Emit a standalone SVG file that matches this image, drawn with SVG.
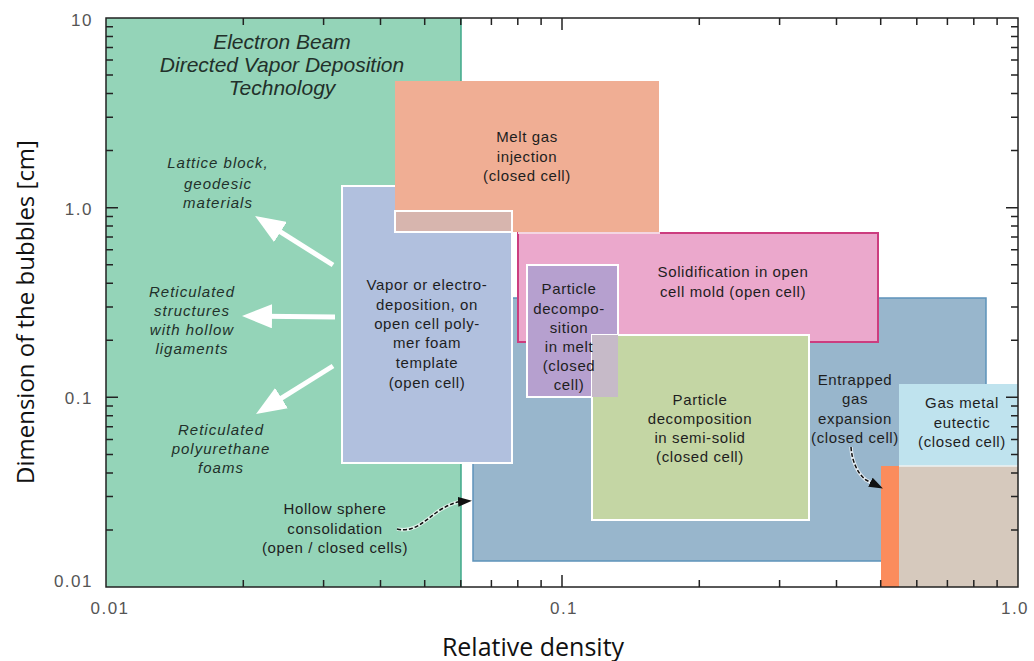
<svg xmlns="http://www.w3.org/2000/svg" width="1034" height="661" viewBox="0 0 1034 661">
<style>
.lbl{font-family:"Liberation Sans",Arial,sans-serif;font-size:15px;letter-spacing:0.6px;fill:#1e1e1e;text-anchor:middle}
.it{font-family:"Liberation Sans",Arial,sans-serif;font-size:15px;letter-spacing:1px;font-style:italic;fill:#22302a;text-anchor:middle}
.ttl{font-family:"Liberation Sans",Arial,sans-serif;font-size:21px;font-style:italic;fill:#22302a;text-anchor:middle}
.tick{font-family:"Liberation Sans",Arial,sans-serif;font-size:17px;letter-spacing:1.5px;fill:#555}
.axt{font-family:"Open Sans","Liberation Sans",sans-serif;fill:#111;text-anchor:middle}
.wb{stroke:#ffffff;stroke-width:2}
.warrow{stroke:#ffffff;stroke-width:5;fill:none;marker-end:url(#wh)}
.darrow{stroke:#111;stroke-width:1.5;fill:none;stroke-dasharray:4 2;marker-end:url(#bk)}
.halo{stroke:#ffffff;stroke-width:3.5;fill:none;opacity:0.7}
.tk{stroke:#222;stroke-width:1.5}
</style>
<defs>
<marker id="wh" viewBox="0 0 30 24" refX="8" refY="12" markerWidth="30" markerHeight="24" markerUnits="userSpaceOnUse" orient="auto">
<path d="M0,0 L30,12 L0,24 Z" fill="#ffffff"/>
</marker>
<marker id="bk" viewBox="0 0 14 10" refX="4" refY="5" markerWidth="14" markerHeight="10" markerUnits="userSpaceOnUse" orient="auto">
<path d="M0,0 L14,5 L0,10 Z" fill="#111"/>
</marker>
</defs>
<rect x="0" y="0" width="1034" height="661" fill="#ffffff"/>

<g id="ebdvd">
<rect x="106" y="18" width="355" height="569" fill="#94d4b8"/>
<line x1="461" y1="18" x2="461" y2="587" stroke="#3fa88a" stroke-width="1.5"/>
<text class="ttl" x="282" y="49">Electron Beam</text>
<text class="ttl" x="282" y="72">Directed Vapor Deposition</text>
<text class="ttl" x="282" y="95">Technology</text>
</g>

<g id="lattice">
<text class="it" x="218" y="168">Lattice block,</text>
<text class="it" x="218" y="189">geodesic</text>
<text class="it" x="218" y="208">materials</text>
</g>
<g id="reticulated-hollow">
<text class="it" x="192" y="297">Reticulated</text>
<text class="it" x="192" y="316">structures</text>
<text class="it" x="192" y="335">with hollow</text>
<text class="it" x="192" y="354">ligaments</text>
</g>
<g id="reticulated-pu">
<text class="it" x="221" y="435">Reticulated</text>
<text class="it" x="221" y="454">polyurethane</text>
<text class="it" x="221" y="473">foams</text>
</g>

<g id="hollow-sphere">
<rect x="473" y="298" width="513" height="263" fill="#98b6cc" stroke="#5d93ba" stroke-width="1.5"/>
<text class="lbl" x="335" y="514">Hollow sphere</text>
<text class="lbl" x="335" y="534">consolidation</text>
<text class="lbl" x="335" y="553">(open / closed cells)</text>
</g>

<g id="vapor-deposition">
<rect x="342" y="186" width="170" height="277" fill="#b1c0de" class="wb"/>
<text class="lbl" x="427" y="290">Vapor or electro-</text>
<text class="lbl" x="427" y="310">deposition, on</text>
<text class="lbl" x="427" y="329">open cell poly-</text>
<text class="lbl" x="427" y="348">mer foam</text>
<text class="lbl" x="427" y="368">template</text>
<text class="lbl" x="427" y="388">(open cell)</text>
</g>

<g id="melt-gas">
<rect x="395" y="81" width="264" height="151" fill="#f0ae94"/>
<rect x="395" y="211" width="117" height="21" fill="#d7b5ae" class="wb"/>
<text class="lbl" x="527" y="142">Melt gas</text>
<text class="lbl" x="527" y="162">injection</text>
<text class="lbl" x="527" y="181">(closed cell)</text>
</g>

<g id="solidification">
<rect x="518" y="233" width="360" height="109" fill="#eba8cc" stroke="#cc3d7f" stroke-width="2"/>
<line x1="518" y1="233" x2="660" y2="233" stroke="#f4d6e2" stroke-width="2"/>
<text class="lbl" x="733" y="277">Solidification in open</text>
<text class="lbl" x="733" y="297">cell mold (open cell)</text>
</g>

<g id="particle-melt">
<rect x="527" y="265" width="91" height="132" fill="#b6a0cf" class="wb"/>
</g>

<g id="particle-semisolid">
<rect x="592" y="335" width="217" height="185" fill="#c4d6a4" class="wb"/>
<rect x="592" y="335" width="26" height="62" fill="#c6bac8"/>
<text class="lbl" x="700" y="405">Particle</text>
<text class="lbl" x="700" y="424">decomposition</text>
<text class="lbl" x="700" y="443">in semi-solid</text>
<text class="lbl" x="700" y="462">(closed cell)</text>
</g>

<g id="particle-melt-text">
<text class="lbl" x="569" y="294">Particle</text>
<text class="lbl" x="569" y="314">decompo-</text>
<text class="lbl" x="569" y="333">sition</text>
<text class="lbl" x="569" y="352">in melt</text>
<text class="lbl" x="569" y="371">(closed</text>
<text class="lbl" x="569" y="390">cell)</text>
</g>

<g id="entrapped-gas">
<rect x="881" y="466" width="18" height="121" fill="#fb8c5c"/>
<text class="lbl" x="855" y="385">Entrapped</text>
<text class="lbl" x="855" y="404">gas</text>
<text class="lbl" x="855" y="424">expansion</text>
<text class="lbl" x="855" y="443">(closed cell)</text>
</g>

<g id="gas-metal-eutectic">
<rect x="899" y="384" width="119" height="82" fill="#bfe3ee"/>
<rect x="899" y="466" width="119" height="121" fill="#d6c9bd"/>
<line x1="899" y1="466" x2="1018" y2="466" stroke="#eef2f2" stroke-width="1.5"/>
<text class="lbl" x="962" y="408">Gas metal</text>
<text class="lbl" x="962" y="428">eutectic</text>
<text class="lbl" x="962" y="447">(closed cell)</text>
</g>

<g id="connectors">
<line class="warrow" x1="333" y1="265" x2="273.7" y2="227.7"/>
<line class="warrow" x1="335" y1="317" x2="264" y2="316.2"/>
<line class="warrow" x1="333" y1="366" x2="274.7" y2="402.4"/>
<path class="halo" d="M397,529 C415,533 425,520 440,510 C450,504 456,502 462,501.5"/>
<path class="darrow" d="M397,529 C415,533 425,520 440,510 C450,504 456,502 462,501.5"/>
<path class="halo" d="M851,447 C852,462 858,474 866,480 L874,484"/>
<path class="darrow" d="M851,447 C852,462 858,474 866,480 L874,484"/>
</g>

<g id="axes">
<rect x="106" y="18" width="912" height="569" fill="none" stroke="#222" stroke-width="1.5"/>
<path class="tk" d="M106,207.7h12M106,397.3h12M1018,207.7h-12M1018,397.3h-12
M106,150.6h7M106,117.2h7M106,93.5h7M106,75.1h7M106,60.1h7M106,47.4h7M106,36.4h7M106,26.7h7
M106,340.3h7M106,306.9h7M106,283.2h7M106,264.8h7M106,249.8h7M106,237.1h7M106,226.1h7M106,216.4h7
M106,530h7M106,496.6h7M106,472.9h7M106,454.5h7M106,439.5h7M106,426.8h7M106,415.8h7M106,406.1h7
M1018,150.6h-7M1018,117.2h-7M1018,93.5h-7M1018,75.1h-7M1018,60.1h-7M1018,47.4h-7M1018,36.4h-7M1018,26.7h-7
M1018,340.3h-7M1018,306.9h-7M1018,283.2h-7M1018,264.8h-7M1018,249.8h-7M1018,237.1h-7M1018,226.1h-7M1018,216.4h-7
M1018,530h-7M1018,496.6h-7M1018,472.9h-7M1018,454.5h-7M1018,439.5h-7M1018,426.8h-7M1018,415.8h-7M1018,406.1h-7
M562,587v-12M562,18v12
M243.3,587v-7M323.6,587v-7M380.5,587v-7M424.7,587v-7M460.8,587v-7M491.4,587v-7M517.8,587v-7M541.1,587v-7
M699.3,587v-7M779.6,587v-7M836.5,587v-7M880.7,587v-7M916.8,587v-7M947.4,587v-7M973.8,587v-7M997.1,587v-7
M243.3,18v7M323.6,18v7M380.5,18v7M424.7,18v7M460.8,18v7M491.4,18v7M517.8,18v7M541.1,18v7
M699.3,18v7M779.6,18v7M836.5,18v7M880.7,18v7M916.8,18v7M947.4,18v7M973.8,18v7M997.1,18v7"/>
<text class="tick" x="93" y="26" text-anchor="end">10</text>
<text class="tick" x="93" y="215" text-anchor="end">1.0</text>
<text class="tick" x="93" y="404" text-anchor="end">0.1</text>
<text class="tick" x="93" y="587" text-anchor="end">0.01</text>
<text class="tick" x="110" y="614" text-anchor="middle">0.01</text>
<text class="tick" x="564" y="614" text-anchor="middle">0.1</text>
<text class="tick" x="1015" y="614" text-anchor="middle">1.0</text>
<text class="axt" x="533" y="656" font-size="25">Relative density</text>
<text class="axt" transform="translate(34,312) rotate(-90)" font-size="24">Dimension of the bubbles [cm]</text>
</g>
</svg>
